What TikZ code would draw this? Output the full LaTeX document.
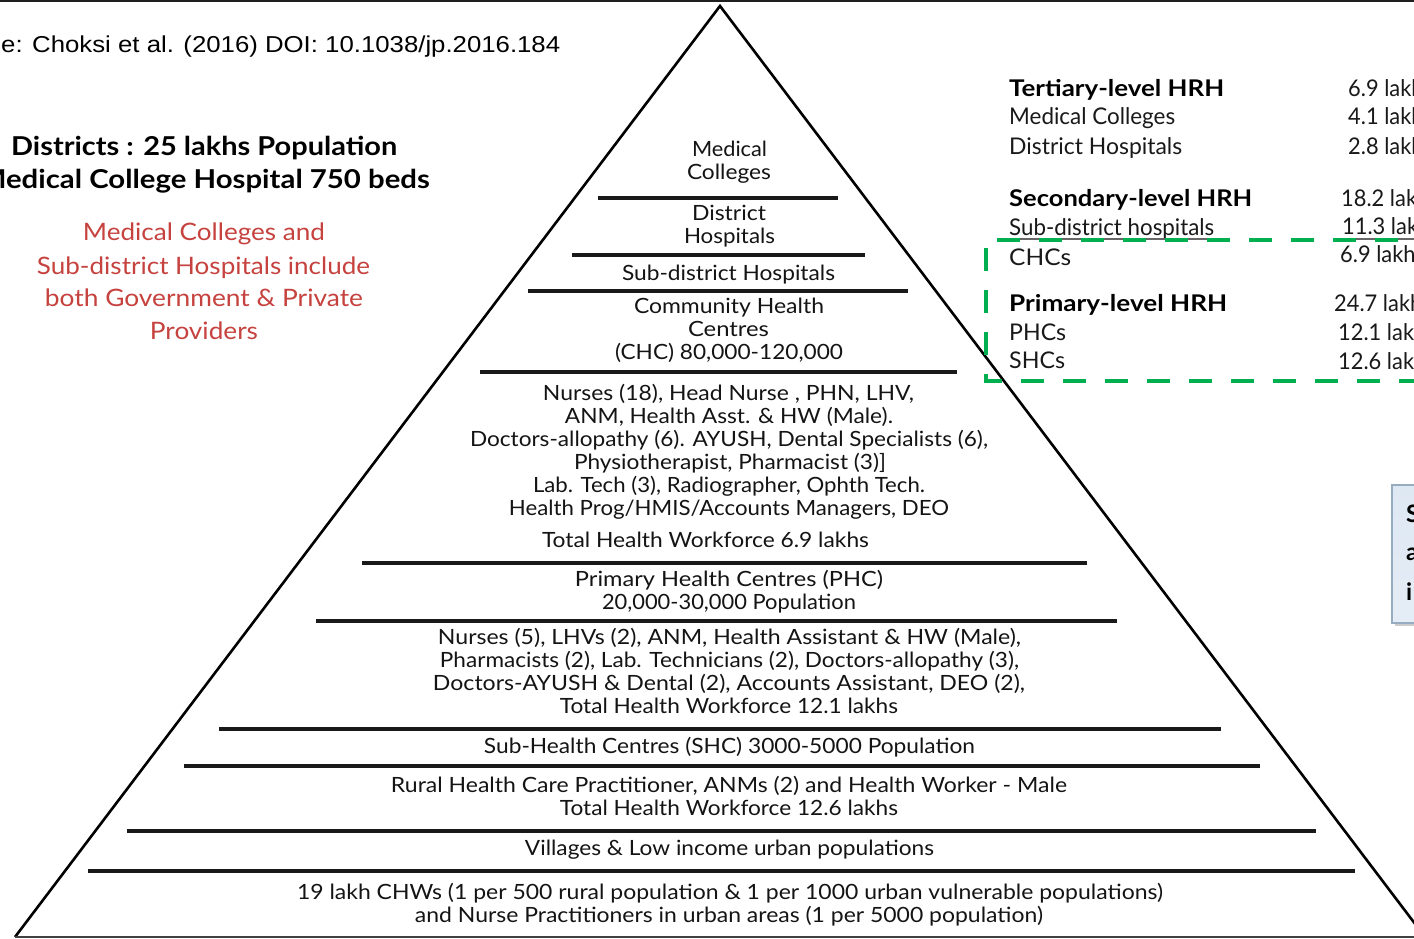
\documentclass[tikz,border=0pt]{standalone}
\usepackage{fontspec}
\usepackage{graphicx}
\setmainfont{Lato}
\newfontfamily\arialf{Liberation Sans}
\usetikzlibrary{shadows}
\definecolor{redtxt}{RGB}{198,66,62}
\definecolor{dashgreen}{RGB}{0,176,80}
\definecolor{boxfill}{RGB}{222,232,243}
\definecolor{boxdraw}{RGB}{150,172,192}
\newcommand{\fitw}[2]{\resizebox{#1pt}{\height}{#2}}
\tikzset{
  ptxt/.style={anchor=base, inner sep=0pt, font=\fontsize{21}{23}\selectfont, text=black!92},
  rtxt/.style={anchor=base west, inner sep=0pt, font=\fontsize{23}{26}\selectfont, text=black!90},
  rbold/.style={rtxt, font=\fontsize{23}{26}\selectfont\bfseries, text=black},
  rnum/.style={anchor=base west, inner sep=0pt, font=\fontsize{23}{26}\selectfont, text=black!90},
  redt/.style={anchor=base, inner sep=0pt, font=\fontsize{24}{27}\selectfont, text=redtxt},
  lbold/.style={inner sep=0pt, font=\fontsize{26}{29}\selectfont\bfseries, text=black},
  edge/.style={line width=2.6pt, black},
  tier/.style={line width=3.2pt, black!90},
  gdash/.style={line width=4pt, dashgreen, dash pattern=on 23pt off 19pt},
}
\begin{document}
\begin{tikzpicture}[x=1pt, y=-1pt]
\useasboundingbox (0,0) rectangle (1414,939);
\fill[white] (0,0) rectangle (1414,939);
\begin{scope}
\clip (0,0) rectangle (1414,939);
% top band
\fill[black!88] (0,0) rectangle (1414,2.5);
% pyramid
\coordinate (apex) at (720,6);
\coordinate (bl) at (15,937);
\coordinate (br) at (1425,937);
\draw[edge, line join=miter] (bl) -- (apex) -- (br);
\draw[line width=2.4pt, black!75] (bl) -- (br);
% tier lines
\draw[tier] (598,198) -- (838,198);
\draw[tier] (572,255) -- (865,255);
\draw[tier] (528,291) -- (908,291);
\draw[tier] (480,372) -- (957,372);
\draw[tier] (362,563) -- (1087,563);
\draw[tier] (316,621) -- (1117,621);
\draw[tier] (219,729) -- (1221,729);
\draw[tier] (184,766) -- (1260,766);
\draw[tier] (127,831) -- (1316,831);
\draw[tier] (88,871) -- (1355,871);
% pyramid texts
\node[ptxt] (m1) at (729.5,157) {\fitw{75}{Medical}};
\node[ptxt] (m2) at (729,180) {\fitw{84}{Colleges}};
\node[ptxt] (d1) at (729,220) {\fitw{74}{District}};
\node[ptxt] (d2) at (729.5,243) {\fitw{91}{Hospitals}};
\node[ptxt] (s1) at (728.5,280) {\fitw{213}{Sub-district Hospitals}};
\node[ptxt] (c1) at (729,313) {\fitw{190}{Community Health}};
\node[ptxt] (c2) at (728.5,336) {\fitw{81}{Centres}};
\node[ptxt] (c3) at (729,359) {\fitw{228}{(CHC) 80,000-120,000}};
\node[ptxt] (n1) at (728.5,400) {\fitw{371}{Nurses (18), Head Nurse , PHN, LHV,}};
\node[ptxt] (n2) at (729,423) {\fitw{328}{ANM, Health Asst. \& HW (Male).}};
\node[ptxt] (n3) at (729,446) {\fitw{518}{Doctors-allopathy (6). AYUSH, Dental Specialists (6),}};
\node[ptxt] (n4) at (730,469) {\fitw{312}{Physiotherapist, Pharmacist (3)]}};
\node[ptxt] (n5) at (729,492) {\fitw{392}{Lab. Tech (3), Radiographer, Ophth Tech.}};
\node[ptxt] (n6) at (729,515) {\fitw{440}{Health Prog/HMIS/Accounts Managers, DEO}};
\node[ptxt] (n7) at (705.5,547) {\fitw{327}{Total Health Workforce 6.9 lakhs}};
\node[ptxt] (p1) at (729,586) {\fitw{308}{Primary Health Centres (PHC)}};
\node[ptxt] (p2) at (729,609) {\fitw{254}{20,000-30,000 Population}};
\node[ptxt] (q1) at (729.5,644) {\fitw{583}{Nurses (5), LHVs (2), ANM, Health Assistant \& HW (Male),}};
\node[ptxt] (q2) at (729.5,667) {\fitw{579}{Pharmacists (2), Lab. Technicians (2), Doctors-allopathy (3),}};
\node[ptxt] (q3) at (729,690) {\fitw{592}{Doctors-AYUSH \& Dental (2), Accounts Assistant, DEO (2),}};
\node[ptxt] (q4) at (729,713) {\fitw{338}{Total Health Workforce 12.1 lakhs}};
\node[ptxt] (sh) at (729.5,753) {\fitw{491}{Sub-Health Centres (SHC) 3000-5000 Population}};
\node[ptxt] (r1) at (729,792) {\fitw{676}{Rural Health Care Practitioner, ANMs (2) and Health Worker - Male}};
\node[ptxt] (r2) at (729,815) {\fitw{338}{Total Health Workforce 12.6 lakhs}};
\node[ptxt] (vl) at (729.5,855) {\fitw{409}{Villages \& Low income urban populations}};
\node[ptxt] (w1) at (730,899) {\fitw{866}{19 lakh CHWs (1 per 500 rural population \& 1 per 1000 urban vulnerable populations)}};
\node[ptxt] (w2) at (729,922) {\fitw{628}{and Nurse Practitioners in urban areas (1 per 5000 population)}};
% source line
\node[anchor=base west, inner sep=0pt, font=\arialf\fontsize{23}{26}\selectfont, text=black] (src) at (1,53) {\fitw{559}{e: Choksi et al. (2016) DOI: 10.1038/jp.2016.184}};
% left headings
\node[lbold, anchor=base west] (dist) at (11,156) {\fitw{386}{Districts : 25 lakhs Population}};
\node[lbold, anchor=base east] (mch) at (430,189) {\fitw{451}{Medical College Hospital 750 beds}};
\node[redt] (red1) at (204,240) {\fitw{242}{Medical Colleges and}};
\node[redt] (red2) at (203.5,274) {\fitw{333}{Sub-district Hospitals include}};
\node[redt] (red3) at (204,306) {\fitw{318}{both Government \& Private}};
\node[redt] (red4) at (204,339) {\fitw{108}{Providers}};
% right panel
\node[rbold] (th) at (1009,97) {\fitw{215}{Tertiary-level HRH}};
\node[rtxt] (tmc) at (1009,125) {\fitw{166}{Medical Colleges}};
\node[rtxt] (tdh) at (1009,154) {\fitw{173}{District Hospitals}};
\node[rbold] (sh2) at (1009,207) {\fitw{243}{Secondary-level HRH}};
\node[rtxt] (ssd) at (1009,235) {\fitw{205}{Sub-district hospitals}};
\node[rtxt] (schc) at (1009,265) {\fitw{62}{CHCs}};
\node[rbold] (ph) at (1009,311) {\fitw{218}{Primary-level HRH}};
\node[rtxt] (pphc) at (1009,340) {\fitw{57}{PHCs}};
\node[rtxt] (pshc) at (1009,368) {\fitw{56}{SHCs}};
\draw[line width=1.2pt, black!60] (1009,239) -- (1214,239);
\draw[line width=1.2pt, black!60] (1340,239) -- (1414,239);
\node[rnum] (v1) at (1348,97) {\scalebox{0.95}[1]{6.9 lakhs}};
\node[rnum] (v2) at (1348,125) {\scalebox{0.95}[1]{4.1 lakhs}};
\node[rnum] (v3) at (1348,154) {\scalebox{0.95}[1]{2.8 lakhs}};
\node[rnum] (v4) at (1341,206) {\scalebox{0.95}[1]{18.2 lakhs}};
\node[rnum] (v5) at (1342,234) {\scalebox{0.95}[1]{11.3 lakhs}};
\node[rnum] (v6) at (1340,262) {\scalebox{0.95}[1]{6.9 lakhs}};
\node[rnum] (v7) at (1334,311) {\scalebox{0.95}[1]{24.7 lakhs}};
\node[rnum] (v8) at (1338,340) {\scalebox{0.95}[1]{12.1 lakhs}};
\node[rnum] (v9) at (1338,369) {\scalebox{0.95}[1]{12.6 lakhs}};
% green dashed box
\draw[gdash] (1440,240) -- (986,240) -- (986,381) -- (1440,381);
% right callout box
\node[draw=boxdraw, line width=1.5pt, top color=boxfill, bottom color=boxfill!80!white,
      drop shadow={shadow xshift=3pt, shadow yshift=-3pt, opacity=0.4},
      minimum width=60pt, minimum height=138pt, anchor=north west, inner sep=0pt] (cbox) at (1391,484) {};
\node[anchor=base west, inner sep=0pt, font=\fontsize{24}{27}\selectfont\bfseries] (cb1) at (1406,522) {S};
\node[anchor=base west, inner sep=0pt, font=\fontsize{24}{27}\selectfont\bfseries] (cb2) at (1406,560) {a};
\node[anchor=base west, inner sep=0pt, font=\fontsize{24}{27}\selectfont\bfseries] (cb3) at (1406,600) {i};
\end{scope}
\end{tikzpicture}
\end{document}
